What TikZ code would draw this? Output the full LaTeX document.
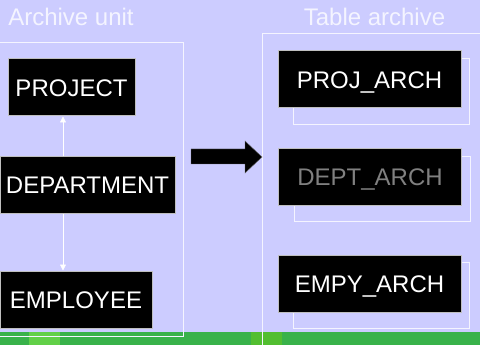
\documentclass[tikz,border=0pt]{standalone}
\usepackage{fontspec}
\setmainfont{Liberation Sans}
\usetikzlibrary{arrows.meta,backgrounds}
\definecolor{lavender}{RGB}{204,204,255}
\definecolor{barGreen}{RGB}{57,178,74}
\definecolor{patchA}{RGB}{98,208,72}
\definecolor{patchB}{RGB}{82,190,48}
\definecolor{paleWhite}{RGB}{244,244,255}
\begin{document}
\begin{tikzpicture}[x=1pt,y=-1pt,
  box/.style={rectangle,fill=black,draw=white!75!black,line width=1pt,inner sep=0pt,
    minimum height=57pt,text=white,text height=17.2pt,text depth=0pt,
    font=\fontsize{24}{28}\selectfont},
  archbox/.style={box,minimum width=183pt},
  frame/.style={draw=paleWhite,line width=1pt},
  link/.style={draw=white,line width=0.8pt,-{Triangle[length=6pt,width=6pt]}},
  title/.style={text=paleWhite,inner sep=0pt,anchor=base,font=\fontsize{24}{28}\selectfont}]

  \useasboundingbox (0,0) rectangle (480,345);
  \begin{scope}[on background layer]
    \fill[lavender] (0,0) rectangle (480,345);
    % bottom bar
    \fill[barGreen] (0,332) rectangle (480,345);
    \fill[patchA] (29,332) rectangle (60,345);
    \fill[patchB] (251,332) rectangle (282,345);
  \end{scope}

  % frames
  \draw[frame] (-2,43) rectangle (183,336);
  \draw[frame] (262,34) rectangle (484,350);

  \node[title] (unitT) at (71,26) {Archive unit};
  \node[title] (archT) at (374.5,26) {Table archive};

  % archive unit
  \node[box,minimum width=127pt] (proj) at (71.5,87.5) {PROJECT};
  \node[box,minimum width=175pt,minimum height=56pt] (dept) at (87.5,185) {DEPARTMENT};
  \node[box,minimum width=152pt] (empl) at (76,299.5) {EMPLOYEE};

  \coordinate (lnk) at (63,0);
  \draw[link] (dept.north -| lnk) -- (proj.south -| lnk);
  \draw[link] (dept.south -| lnk) -- (empl.north -| lnk);

  % big arrow
  \fill[black,draw=black!60] (191,149) -- (245,149) -- (245,141) -- (262,157)
    -- (245,173) -- (245,164) -- (191,164) -- cycle;

  % table archive
  \node[archbox] (projA) at (369.5,79.5) {PROJ\_ARCH};
  \node[archbox,minimum height=56pt,text=gray] (deptA) at (370,177) {DEPT\_ARCH};
  \node[archbox] (empyA) at (369.5,283.5) {EMPY\_ARCH};

  \begin{scope}[on background layer]
    \foreach \n in {projA,deptA,empyA}
      \draw[frame] ([shift={(16,8)}]\n.north west) rectangle ([shift={(8,16)}]\n.south east);
  \end{scope}
\end{tikzpicture}
\end{document}
